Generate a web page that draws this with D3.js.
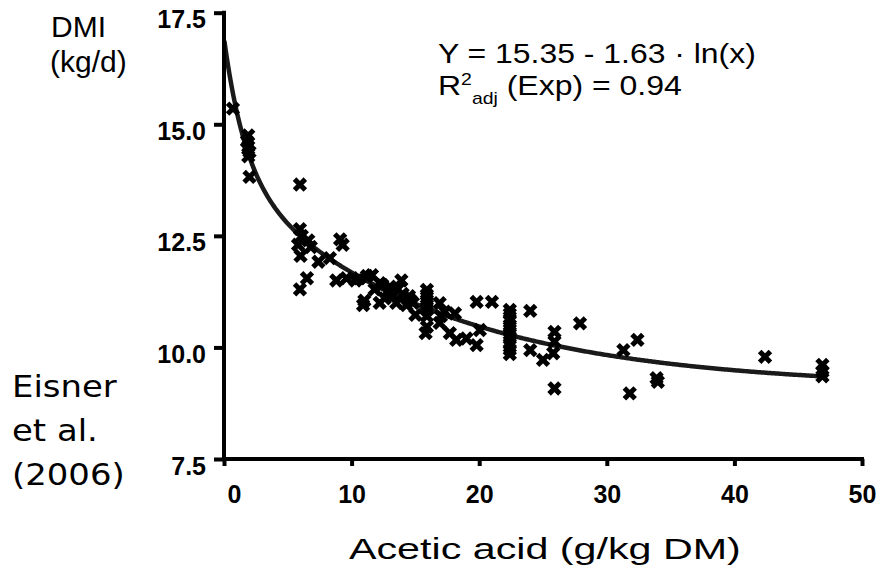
<!DOCTYPE html>
<html>
<head>
<meta charset="utf-8">
<script src="https://cdn.jsdelivr.net/npm/d3@7"></script>
<style>
  body { margin: 0; background: #fff; }
  text { fill: #000; }
</style>
</head>
<body>
<script>
const width = 886;
const height = 567;

// acetic acid (g/kg DM) and DMI (kg/d)
const acetic = [
    0.7, 1.9, 1.8, 1.9, 2.0, 1.9, 2.0,
    5.95, 5.95, 6.1, 5.8, 6.0, 6.6, 6.8, 6.5, 5.95,
    7.4, 8.3, 9.1, 9.3, 8.8, 9.6, 10.3, 10.6,
    11.2, 11.6, 12.2, 13.0, 13.9, 12.4, 11.8, 12.8, 13.6, 14.5,
    10.9, 11.0, 12.2, 12.6, 13.5, 14.0, 14.6, 13.2, 14.3, 14.8,
    15.0, 15.9, 15.9, 15.9, 15.9, 15.9, 15.9, 15.9, 15.8,
    16.9, 17.3, 16.9, 17.0, 18.1, 17.7, 18.2, 19.0, 20.05, 19.8,
    19.8, 21.0,
    22.4, 22.4, 22.4, 22.4, 22.4, 22.4, 22.4, 22.4, 22.4, 22.4,
    24.0, 24.0, 25.0, 25.9, 25.9, 25.8, 25.9, 27.9,
    31.3, 32.4, 31.8, 33.9, 34.0,
    42.4, 46.9, 46.9, 46.9
];
const dmi = [
    15.35, 14.75, 14.62, 14.5, 14.38, 14.28, 13.82,
    13.65, 12.65, 12.5, 12.3, 12.05, 12.4, 12.25, 11.55, 11.3,
    11.92, 12.0, 12.42, 12.3, 11.5, 11.55, 11.5, 11.55,
    11.6, 11.62, 11.44, 11.36, 11.5, 11.4, 11.3, 11.25, 11.3, 11.15,
    10.95, 11.05, 11.0, 11.1, 11.0, 11.2, 11.06, 11.15, 10.95, 11.0,
    10.73, 11.29, 11.18, 11.06, 10.95, 10.84, 10.7, 10.46, 10.32,
    10.99, 10.8, 10.55, 10.7, 10.76, 10.32, 10.17, 10.2, 10.39, 10.05,
    11.02, 11.02,
    10.84, 10.75, 10.62, 10.5, 10.4, 10.3, 10.2, 10.08, 9.95, 9.85,
    10.82, 9.94, 9.72, 10.35, 10.13, 9.87, 9.08, 10.54,
    9.94, 10.17, 8.97, 9.31, 9.23,
    9.79, 9.61, 9.46, 9.35
];

const xTicks = [0, 10, 20, 30, 40, 50];
const yTicks = [7.5, 10.0, 12.5, 15.0, 17.5];

// fitted curve (exp decay, two phase) as drawn in the figure
const plateau = 9.1;
const fastSpan = 3.0, fastK = 0.6;
const slowSpan = 4.83, slowK = 0.063;
const fit = x => plateau + fastSpan * Math.exp(-fastK * x) + slowSpan * Math.exp(-slowK * x);

const x = d3.scaleLinear().domain([0, 50]).range([224, 862]);
const y = d3.scaleLinear().domain([7.5, 17.5]).range([459, 12.7]);

const sans = "Liberation Sans, Arial, sans-serif";

const svg = d3.select("body").append("svg")
    .attr("width", width)
    .attr("height", height);

// stretch a text horizontally so it spans w pixels from its left edge
function fitWidth(sel, w) {
    const b = sel.node().getBBox();
    const k = w / b.width;
    sel.attr("transform", `translate(${b.x},0) scale(${k},1) translate(${-b.x},0)`);
}

// curve
const curvePts = d3.range(0.03, 47.05, 0.1).map(v => [v, fit(v)]);
svg.append("path")
    .datum(curvePts)
    .attr("fill", "none")
    .attr("stroke", "#1a1a1a")
    .attr("stroke-width", 4.5)
    .attr("d", d3.line().x(d => x(d[0])).y(d => y(d[1])));

// markers
const pts = acetic.map((a, i) => ({a: a, d: dmi[i]}));
const m = 5.4;
svg.append("g")
    .selectAll("path")
    .data(pts)
    .join("path")
    .attr("transform", d => `translate(${x(d.a)},${y(d.d)})`)
    .attr("d", `M${-m},${-m}L${m},${m}M${-m},${m}L${m},${-m}`)
    .attr("stroke", "#000")
    .attr("stroke-width", 5);

// axes
const xAxis = svg.append("g")
    .attr("transform", `translate(0,459)`)
    .call(d3.axisBottom(x).tickValues(xTicks).tickSize(7).tickSizeOuter(0).tickFormat(d3.format("d")));
xAxis.select(".domain").attr("stroke-width", 4).attr("d", "M222,0H864");
xAxis.selectAll(".tick line").attr("stroke-width", 4);
xAxis.selectAll(".tick text")
    .attr("y", 44).attr("dy", null)
    .attr("font-family", sans)
    .attr("font-weight", "bold")
    .attr("font-size", 25)
    .attr("dx", d => d === 0 ? 10 : 0);

const yAxis = svg.append("g")
    .attr("transform", `translate(224,0)`)
    .call(d3.axisLeft(y).tickValues(yTicks).tickSize(10).tickSizeOuter(0).tickFormat(d3.format(".1f")));
yAxis.select(".domain").attr("stroke-width", 4).attr("d", "M0,10.7V461");
yAxis.selectAll(".tick line").attr("stroke-width", 4);
yAxis.selectAll(".tick text")
    .attr("x", -18).attr("dy", null).attr("y", 15)
    .attr("font-family", sans)
    .attr("font-weight", "bold")
    .attr("font-size", 25);

// labels
svg.append("text").attr("x", 51).attr("y", 37)
    .attr("font-family", sans).attr("font-size", 30).text("DMI");
svg.append("text").attr("x", 50).attr("y", 72)
    .attr("font-family", sans).attr("font-size", 30).text("(kg/d)");

const title = svg.append("text").attr("x", 349).attr("y", 559)
    .attr("font-family", sans).attr("font-size", 30).text("Acetic acid (g/kg DM)");
fitWidth(title, 392);

const eq = svg.append("text").attr("x", 438).attr("y", 63)
    .attr("font-family", sans).attr("font-size", 28)
    .text("Y = 15.35 - 1.63 \u00b7 ln(x)");
fitWidth(eq, 318);

const r2 = svg.append("text").attr("x", 438).attr("y", 95)
    .attr("font-family", sans).attr("font-size", 28);
r2.append("tspan").text("R");
r2.append("tspan").attr("font-size", 17).attr("dy", -10).text("2");
r2.append("tspan").attr("font-size", 17).attr("dy", 19).text("adj");
r2.append("tspan").attr("dy", -9).text(" (Exp) = 0.94");
fitWidth(r2, 244);

const cite = ["Eisner", "et al.", "(2006)"];
svg.append("g").selectAll("text")
    .data(cite)
    .join("text")
    .attr("x", 12)
    .attr("y", (d, i) => 397 + i * 44)
    .attr("font-family", "DejaVu Sans, sans-serif")
    .attr("font-size", 30)
    .attr("transform", "translate(12,0) scale(1.13,1) translate(-12,0)")
    .text(d => d);
</script>
</body>
</html>
